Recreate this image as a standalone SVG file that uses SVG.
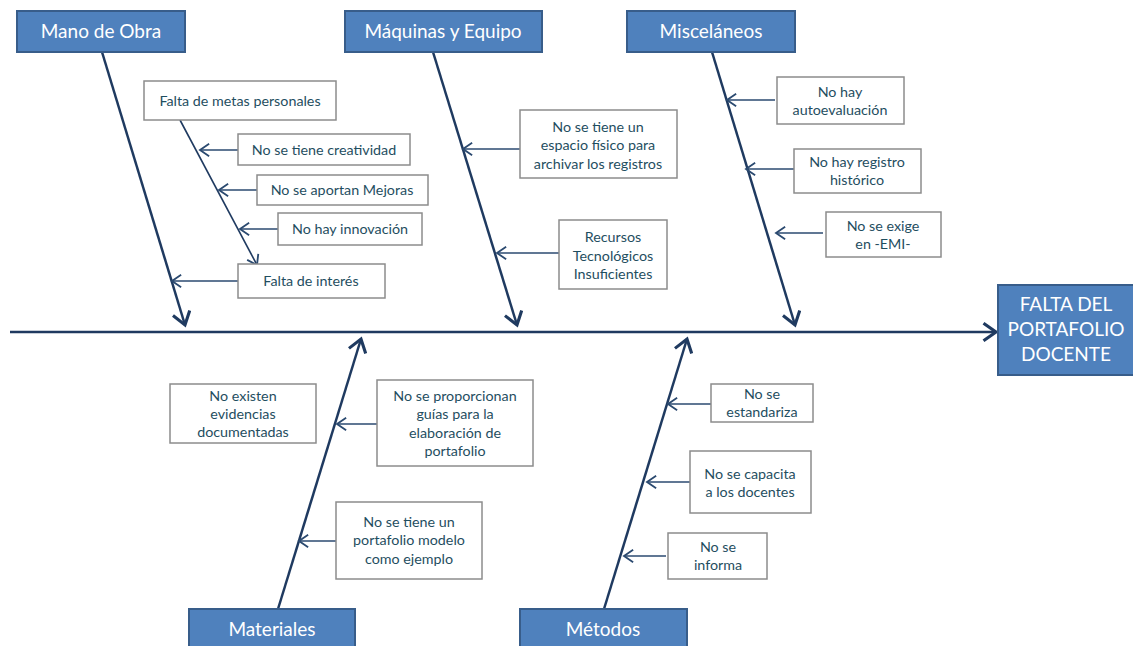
<svg xmlns="http://www.w3.org/2000/svg" width="1133" height="646" viewBox="0 0 1133 646">
<style>
.hdr{fill:#4f81bd;stroke:#385d8a;stroke-width:2}
.box{fill:#fff;stroke:#8c8c8c;stroke-width:1.5}
.ht{font-family:Lato,"Open Sans",sans-serif;font-size:19px;fill:#fff;text-anchor:middle}
.t{font-family:Lato,"Open Sans",sans-serif;font-size:14.3px;fill:#1f4e5f;text-anchor:middle}
.big{stroke:#1f3a60;stroke-width:2.5;fill:none;marker-end:url(#ab)}
.sm{stroke:#2b4a70;stroke-width:1.6;fill:none;marker-end:url(#as)}
.in{stroke:#1f3a60;stroke-width:1.6;fill:none;marker-end:url(#as)}
</style>
<defs>
<marker id="ab" markerUnits="userSpaceOnUse" markerWidth="20" markerHeight="20" refX="12" refY="8" orient="auto" viewBox="0 0 16 16">
<path d="M2,1 L12,8 L2,15" fill="none" stroke="#1f3a60" stroke-width="2.5"/>
</marker>
<marker id="as" markerUnits="userSpaceOnUse" markerWidth="16" markerHeight="16" refX="10" refY="7" orient="auto" viewBox="0 0 14 14">
<path d="M2,1.5 L10,7 L2,12.5" fill="none" stroke="#2b4a70" stroke-width="1.6"/>
</marker>
</defs>
<g id="connectors">
<line class="big" x1="10" y1="332" x2="996" y2="332"/>
<line class="big" x1="102" y1="52" x2="185" y2="325"/>
<line class="big" x1="433" y1="52" x2="517" y2="325"/>
<line class="big" x1="712" y1="52" x2="795" y2="325"/>
<line class="big" x1="278" y1="609" x2="361" y2="339"/>
<line class="big" x1="604" y1="609" x2="687" y2="339"/>
<line class="in" x1="180" y1="120" x2="257" y2="265"/>
<line class="sm" x1="238" y1="150" x2="200" y2="150"/>
<line class="sm" x1="257" y1="190" x2="219" y2="190"/>
<line class="sm" x1="278" y1="229" x2="240" y2="229"/>
<line class="sm" x1="238" y1="281" x2="172" y2="281"/>
<line class="sm" x1="520" y1="149" x2="463" y2="149"/>
<line class="sm" x1="559" y1="253" x2="497" y2="253"/>
<line class="sm" x1="775" y1="100" x2="727" y2="100"/>
<line class="sm" x1="794" y1="169" x2="746" y2="169"/>
<line class="sm" x1="823" y1="233" x2="776" y2="233"/>
<line class="sm" x1="377" y1="424" x2="337" y2="424"/>
<line class="sm" x1="336" y1="541" x2="299" y2="541"/>
<line class="sm" x1="711" y1="404" x2="668" y2="404"/>
<line class="sm" x1="690" y1="482" x2="647" y2="482"/>
<line class="sm" x1="666" y1="556" x2="624" y2="556"/>
</g>
<g id="mano-de-obra"><rect class="hdr" x="17" y="11" width="168" height="41"/><text class="ht" x="101" y="38">Mano de Obra</text></g>
<g id="maquinas"><rect class="hdr" x="345" y="11" width="197" height="41"/><text class="ht" x="443" y="38">Máquinas y Equipo</text></g>
<g id="miscelaneos"><rect class="hdr" x="627" y="11" width="168" height="41"/><text class="ht" x="711" y="38">Misceláneos</text></g>
<g id="materiales"><rect class="hdr" x="189" y="609" width="166" height="45"/><text class="ht" x="272" y="636">Materiales</text></g>
<g id="metodos"><rect class="hdr" x="520" y="609" width="167" height="45"/><text class="ht" x="603" y="636">Métodos</text></g>
<g id="efecto"><rect class="hdr" x="998" y="285" width="136" height="90"/><text class="ht" x="1066" y="311">FALTA DEL</text><text class="ht" x="1066" y="336">PORTAFOLIO</text><text class="ht" x="1066" y="361">DOCENTE</text></g>
<g id="metas"><rect class="box" x="144" y="81" width="192" height="39"/><text class="t" x="240" y="106">Falta de metas personales</text></g>
<g id="creatividad"><rect class="box" x="238" y="134" width="172" height="31"/><text class="t" x="324" y="155">No se tiene creatividad</text></g>
<g id="mejoras"><rect class="box" x="257" y="175" width="171" height="30"/><text class="t" x="342" y="195">No se aportan Mejoras</text></g>
<g id="innovacion"><rect class="box" x="278" y="213" width="144" height="32"/><text class="t" x="350" y="234">No hay innovación</text></g>
<g id="interes"><rect class="box" x="238" y="264" width="147" height="34"/><text class="t" x="311" y="286">Falta de interés</text></g>
<g id="espacio"><rect class="box" x="520" y="110" width="157" height="68"/><text class="t" x="598" y="132">No se tiene un</text><text class="t" x="598" y="150">espacio físico para</text><text class="t" x="598" y="169">archivar los registros</text></g>
<g id="recursos"><rect class="box" x="559" y="220" width="108" height="69"/><text class="t" x="613" y="242">Recursos</text><text class="t" x="613" y="261">Tecnológicos</text><text class="t" x="613" y="279">Insuficientes</text></g>
<g id="autoevaluacion"><rect class="box" x="777" y="77" width="127" height="47"/><text class="t" x="840" y="97">No hay</text><text class="t" x="840" y="115">autoevaluación</text></g>
<g id="registro"><rect class="box" x="794" y="149" width="127" height="44"/><text class="t" x="857" y="167">No hay registro</text><text class="t" x="857" y="185">histórico</text></g>
<g id="exige"><rect class="box" x="826" y="212" width="115" height="45"/><text class="t" x="883" y="231">No se exige</text><text class="t" x="883" y="249">en -EMI-</text></g>
<g id="evidencias"><rect class="box" x="170" y="384" width="146" height="59"/><text class="t" x="243" y="401">No existen</text><text class="t" x="243" y="419">evidencias</text><text class="t" x="243" y="437">documentadas</text></g>
<g id="guias"><rect class="box" x="377" y="380" width="156" height="86"/><text class="t" x="455" y="401">No se proporcionan</text><text class="t" x="455" y="419">guías para la</text><text class="t" x="455" y="438">elaboración de</text><text class="t" x="455" y="456">portafolio</text></g>
<g id="modelo"><rect class="box" x="336" y="502" width="146" height="77"/><text class="t" x="409" y="527">No se tiene un</text><text class="t" x="409" y="545">portafolio modelo</text><text class="t" x="409" y="564">como ejemplo</text></g>
<g id="estandariza"><rect class="box" x="711" y="384" width="102" height="38"/><text class="t" x="762" y="399">No se</text><text class="t" x="762" y="417">estandariza</text></g>
<g id="capacita"><rect class="box" x="690" y="451" width="121" height="62"/><text class="t" x="750" y="479">No se capacita</text><text class="t" x="750" y="497">a los docentes</text></g>
<g id="informa"><rect class="box" x="668" y="533" width="99" height="46"/><text class="t" x="718" y="552">No se</text><text class="t" x="718" y="570">informa</text></g>
</svg>
